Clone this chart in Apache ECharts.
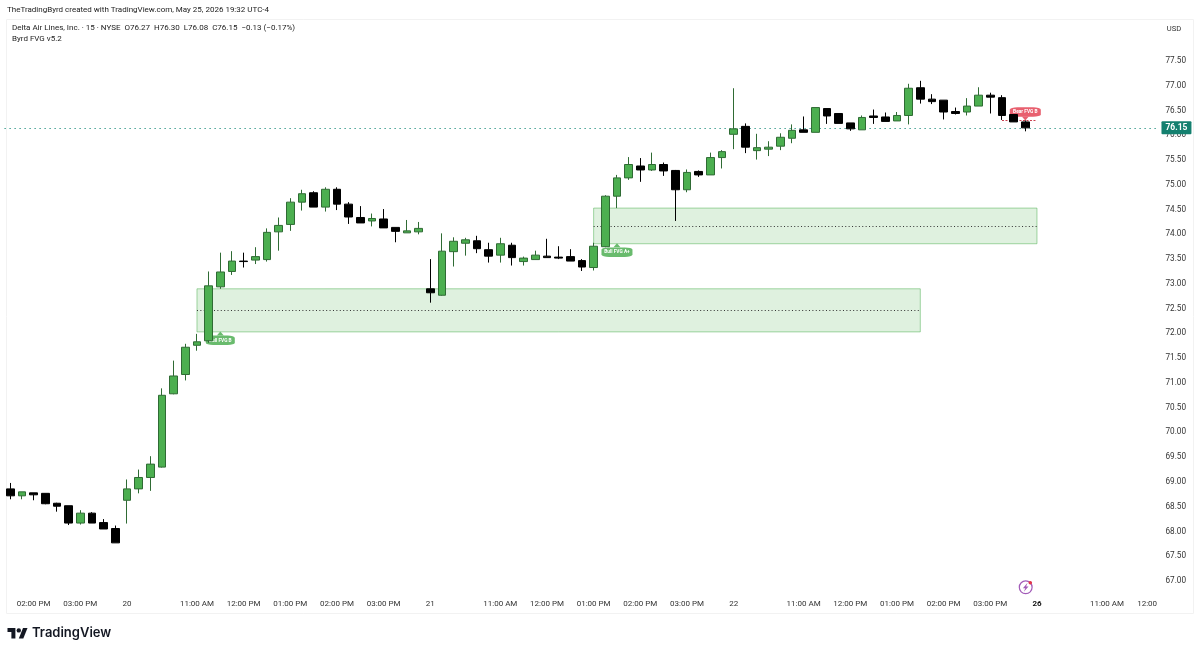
<!DOCTYPE html>
<html>
<head>
<meta charset="utf-8">
<title>Delta Air Lines, Inc. 15 min</title>
<style>html,body{margin:0;padding:0;background:#fff}#chart{width:1200px;height:653px}</style>
<script src="https://cdn.jsdelivr.net/npm/echarts@6/dist/echarts.min.js"></script>
</head>
<body>
<div id="chart"></div>
<script>
// Regular session, one bar every fifteen minutes
const sessionTimes = ["09:30","09:45","10:00","10:15","10:30","10:45","11:00","11:15","11:30","11:45","12:00","12:15","12:30","12:45","13:00","13:15","13:30","13:45","14:00","14:15","14:30","14:45","15:00","15:15","15:30","15:45"];
const categories = [
  ...sessionTimes.slice(16).map(t => "19 " + t),
  ...sessionTimes.map(t => "20 " + t),
  ...sessionTimes.map(t => "21 " + t),
  ...sessionTimes.map(t => "22 " + t),
  ...sessionTimes.slice(0, 11).map(t => "26 " + t)
];

// OHLC per bar, May 19 13:30 through May 22 15:45
const opens = [68.86,68.72,68.78,68.77,68.57,68.52,68.17,68.37,68.18,68.06,
  68.63,68.86,69.09,69.30,70.78,71.17,71.76,71.85,72.94,73.25,73.46,73.48,73.49,74.05,74.20,74.65,74.84,74.55,74.91,74.61,74.34,74.27,74.31,74.14,74.03,74.05,
  72.90,72.77,73.65,73.82,73.87,73.69,73.58,73.78,73.45,73.49,73.56,73.54,73.55,73.47,73.33,73.75,74.77,75.14,75.38,75.30,75.41,75.29,74.90,75.27,75.20,75.55,
  76.02,76.18,75.69,75.72,75.78,75.94,76.11,76.06,76.54,76.44,76.25,76.11,76.39,76.37,76.29,76.40,76.96,76.73,76.71,76.48,76.47,76.59,76.81,76.76,76.42,76.27];
const highs = [68.98,68.80,68.78,68.77,68.58,68.52,68.43,68.39,68.25,68.12,
  69.05,69.25,69.52,70.89,71.45,71.79,71.99,73.25,73.63,73.66,73.63,73.74,74.12,74.34,74.73,74.90,74.87,74.95,74.95,74.65,74.57,74.42,74.51,74.14,74.29,74.25,
  73.50,74.02,73.94,73.93,73.97,73.83,73.93,73.83,73.55,73.67,73.91,73.76,73.70,73.50,73.83,74.79,75.20,75.56,75.54,75.65,75.45,75.30,75.31,75.29,75.65,75.70,
  76.95,76.24,76.03,75.88,76.04,76.22,76.38,76.56,76.54,76.44,76.25,76.40,76.52,76.46,76.47,77.04,77.10,76.83,76.71,76.56,76.75,76.97,76.86,76.81,76.42,76.30];
const lows = [68.65,68.65,68.63,68.55,68.40,68.13,68.14,68.17,68.05,67.77,
  68.16,68.77,68.82,69.29,70.77,71.05,71.65,71.81,72.90,73.18,73.33,73.40,73.45,73.67,74.07,74.48,74.55,74.46,74.49,74.21,74.23,74.16,74.13,73.84,74.03,74.00,
  72.62,72.76,73.35,73.57,73.62,73.43,73.43,73.37,73.37,73.49,73.53,73.50,73.46,73.26,73.27,73.74,74.53,75.10,75.06,75.28,75.18,74.27,74.85,75.16,75.20,75.33,
  75.72,75.64,75.51,75.58,75.70,75.84,76.06,76.06,76.23,76.24,76.09,76.11,76.23,76.28,76.29,76.22,76.64,76.63,76.32,76.42,76.40,76.59,76.44,76.31,76.27,76.08];
const closes = [68.72,68.80,68.74,68.56,68.51,68.17,68.37,68.17,68.05,67.77,
  68.86,69.09,69.36,70.75,71.14,71.72,71.83,72.96,73.24,73.46,73.45,73.55,74.04,74.18,74.65,74.82,74.55,74.91,74.61,74.35,74.23,74.32,74.13,74.06,74.07,74.12,
  72.82,73.66,73.86,73.89,73.71,73.56,73.81,73.53,73.52,73.58,73.53,73.52,73.46,73.34,73.76,74.77,75.14,75.41,75.30,75.41,75.28,74.90,75.25,75.20,75.55,75.67,
  76.13,75.76,75.75,75.76,75.96,76.10,76.06,76.56,76.39,76.24,76.13,76.36,76.36,76.28,76.40,76.95,76.73,76.68,76.47,76.44,76.59,76.81,76.77,76.40,76.27,76.15];

const lastPrice = 76.15;

// Fair value gap zones
const zoneStart = ["20 11:00", "21 13:00"];
const zoneEnd = ["22 13:30", "26 09:30"];
const zoneTop = [72.90, 74.53];
const zoneBottom = [72.03, 73.81];
const zoneMid = [72.46, 74.17];

// Gap tags attached to the zones
const tagText = ["Bull FVG B", "Bull FVG A+", "Bear FVG B"];
const tagBar = ["20 11:30", "21 13:30", "22 15:45"];
const tagPrice = [71.86, 73.64, 76.47];
const tagArrowPrice = [72.00, 73.78, 76.34];

// Bearish gap drawn as a short dashed line
const bearLineFrom = "22 15:15";
const bearLineTo = "26 09:30";
const bearLinePrice = 76.31;

// Time axis labels
const tickCategories = ["19 14:00","19 15:00","20 09:30","20 11:00","20 12:00","20 13:00","20 14:00","20 15:00","21 09:30","21 11:00","21 12:00","21 13:00","21 14:00","21 15:00","22 09:30","22 11:00","22 12:00","22 13:00","22 14:00","22 15:00","26 09:30","26 11:00","26 12:00"];
const tickTexts = ["02:00 PM","03:00 PM","20","11:00 AM","12:00 PM","01:00 PM","02:00 PM","03:00 PM","21","11:00 AM","12:00 PM","01:00 PM","02:00 PM","03:00 PM","22","11:00 AM","12:00 PM","01:00 PM","02:00 PM","03:00 PM","26","11:00 AM","12:00"];

const FONT = "Roboto, 'Liberation Sans', sans-serif";
const GREEN = "#4caf50";
const TAG_GREEN = "#69bb6d";
const TAG_RED = "#e8606f";
const TEAL = "#14806f";
const INK = "#131722";
const PURPLE = "#a25bb8";

const candles = opens.map((o, i) => [o, closes[i], lows[i], highs[i]]);

const zoneAreas = zoneStart.map((s, i) => [
  { coord: [s, zoneTop[i]] },
  { coord: [zoneEnd[i], zoneBottom[i]] }
]);
const zoneLines = zoneStart.map((s, i) => [
  { coord: [s, zoneMid[i]] },
  { coord: [zoneEnd[i], zoneMid[i]] }
]);

const tagPoints = tagText.map((t, i) => ({
  coord: [tagBar[i], tagPrice[i]],
  symbol: "roundRect",
  symbolSize: [t === "Bull FVG B" ? 29 : 31, 9.5],
  itemStyle: { color: t.startsWith("Bear") ? TAG_RED : TAG_GREEN },
  label: { show: true, position: "inside", formatter: t, color: "#fff", fontSize: 4.8, fontWeight: "bold", fontFamily: FONT }
}));
const tagArrows = tagText.map((t, i) => ({
  coord: [tagBar[i], tagArrowPrice[i]],
  symbol: "triangle",
  symbolSize: [7, 4],
  symbolRotate: t.startsWith("Bear") ? 180 : 0,
  itemStyle: { color: t.startsWith("Bear") ? TAG_RED : TAG_GREEN },
  label: { show: false }
}));

const headerLine = "Delta Air Lines, Inc. · 15 · NYSE  O76.27  H76.30  L76.08  C76.15  −0.13 (−0.17%)";
const headerStyle = { fontSize: 8, fontWeight: "normal", color: "#222", fontFamily: FONT };

const option = {
  animation: false,
  backgroundColor: "#fff",
  title: [
    { text: "TheTradingByrd created with TradingView.com, May 25, 2026 19:32 UTC-4", left: 7, top: 6, padding: 0, textStyle: headerStyle },
    { text: headerLine, left: 12, top: 24, padding: 0, textStyle: headerStyle },
    { text: "Byrd FVG v5.2", left: 12, top: 35, padding: 0, textStyle: headerStyle }
  ],
  grid: { left: 4.47, top: 11.48, width: 1155, height: 594.28, containLabel: false },
  xAxis: {
    type: "category",
    data: categories,
    boundaryGap: true,
    axisLine: { show: false },
    axisTick: { show: false },
    splitLine: { show: false },
    axisLabel: {
      margin: -6,
      hideOverlap: false,
      fontSize: 8,
      color: "#333",
      fontFamily: FONT,
      interval: (i, v) => tickCategories.includes(v),
      formatter: v => {
        const t = tickTexts[tickCategories.indexOf(v)];
        if (t === "26") return "{strong|26}";
        // the last label is cut short at the pane edge and keeps its left side in place
        if (t === "12:00") return "{cut|12:00}";
        return t;
      },
      rich: {
        strong: { fontSize: 8, color: "#111", fontWeight: "bold", fontFamily: FONT },
        cut: { fontSize: 8, color: "#333", fontFamily: FONT, padding: [0, 13, 0, 0] }
      }
    }
  },
  yAxis: {
    type: "value",
    position: "right",
    min: 66.5,
    max: 78.5,
    interval: 0.5,
    scale: true,
    axisLine: { show: false },
    axisTick: { show: false },
    splitLine: { show: false },
    axisLabel: {
      margin: 6,
      fontSize: 8.2,
      color: "#333",
      fontFamily: FONT,
      padding: [3, 0, 0, 0],
      formatter: v => (v > 77.5 || v < 67) ? "" : v.toFixed(2)
    }
  },
  series: [
    {
      name: "DAL",
      type: "candlestick",
      z: 10,
      barWidth: 8,
      data: candles,
      itemStyle: {
        color: GREEN,
        color0: "#000",
        borderColor: "#2f6b34",
        borderColor0: "#000",
        borderWidth: 1
      },
      markArea: {
        silent: true,
        z: 1,
        itemStyle: { color: "rgba(76,175,80,0.18)", borderColor: "rgba(76,175,80,0.5)", borderWidth: 1 },
        data: zoneAreas
      },
      markLine: {
        silent: true,
        z: 2,
        symbol: "none",
        label: { show: false },
        lineStyle: { color: "#333", type: [1, 2.4], width: 1.2 },
        data: [
          ...zoneLines,
          [
            { coord: [bearLineFrom, bearLinePrice], lineStyle: { color: "#c9404f", type: [2, 1.5], width: 1 } },
            { coord: [bearLineTo, bearLinePrice] }
          ]
        ]
      },
      markPoint: {
        silent: true,
        z: 3,
        data: [...tagArrows, ...tagPoints]
      }
    },
    {
      name: "Last price",
      type: "line",
      data: [],
      z: 3,
      markLine: {
        silent: true,
        z: 6,
        symbol: "none",
        lineStyle: { color: "#2a9484", type: [1.3, 3.7], width: 1.2 },
        label: {
          show: true,
          position: "end",
          distance: 2,
          formatter: lastPrice.toFixed(2),
          color: "#fff",
          backgroundColor: TEAL,
          fontSize: 8.5,
          fontWeight: "bold",
          fontFamily: FONT,
          padding: [2.5, 4, 1.5, 4],
          borderRadius: 1
        },
        data: [{ yAxis: lastPrice }]
      }
    }
  ],
  graphic: [
    { type: "rect", silent: true, z: -1, shape: { x: 6.5, y: 19.5, width: 1187, height: 594 },
      style: { fill: "none", stroke: "#f2f2f2", lineWidth: 1 } },
    { type: "text", silent: true, style: { x: 1174, y: 29, text: "USD", align: "center", verticalAlign: "middle", fontSize: 7.6, fill: "#333", fontFamily: FONT } },
    // TradingView mark: T, dot and slanted V
    { type: "polygon", silent: true, shape: { points: [[15.4, 638.6], [11.4, 638.6], [11.4, 632.1], [7.5, 632.1], [7.5, 628], [15.4, 628]] }, style: { fill: INK } },
    { type: "polygon", silent: true, shape: { points: [[23.3, 638.6], [18.8, 638.6], [23, 628], [27.5, 628]] }, style: { fill: INK } },
    { type: "circle", silent: true, shape: { cx: 18.8, cy: 630.4, r: 2.2 }, style: { fill: INK } },
    { type: "text", silent: true, style: { x: 32, y: 633.5, text: "TradingView", verticalAlign: "middle", fontSize: 13, fontWeight: 600, fill: INK, fontFamily: "Inter, Roboto, sans-serif" } },
    // Publishing badge under the last bars
    { type: "circle", silent: true, shape: { cx: 1025.7, cy: 587.3, r: 6.4 }, style: { fill: "#fff", stroke: PURPLE, lineWidth: 1.2 } },
    { type: "polygon", silent: true, shape: { points: [[1027.6, 582.8], [1022.9, 588.2], [1025.3, 588.2], [1023.9, 591.8], [1028.5, 586.4], [1026.1, 586.4]] }, style: { fill: PURPLE } },
    { type: "circle", silent: true, z: 10, shape: { cx: 1030.3, cy: 582.7, r: 1.8 }, style: { fill: "#e0344a" } }
  ]
};

echarts.init(document.getElementById("chart"), null, { renderer: "canvas" }).setOption(option);
</script>
</body>
</html>
